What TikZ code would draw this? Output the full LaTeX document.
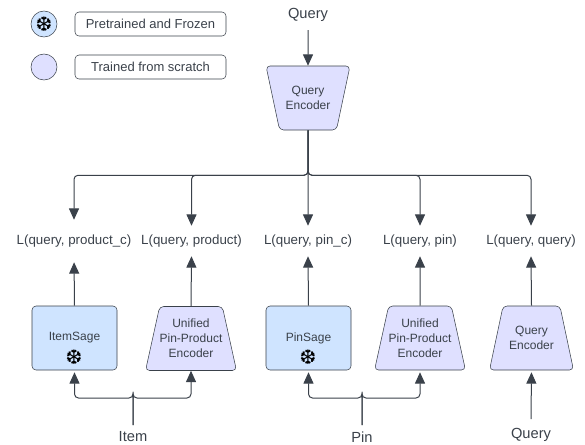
\documentclass[tikz,border=0pt]{standalone}
\usepackage{fontspec}
\setmainfont{Liberation Sans}
\newfontfamily\flakefont{DejaVu Sans}
\usetikzlibrary{arrows.meta,shapes.geometric,calc}
\definecolor{inkgray}{HTML}{3A414A}
\definecolor{frozenblue}{HTML}{CFE4FF}
\definecolor{trainedblue}{HTML}{DFE0FF}
\newcommand\flake{{\flakefont\symbol{"2746}}}
\tikzset{
  boxtext/.style = {text = inkgray, font = \fontsize{9}{11.25}\selectfont, align = center},
  legendbox/.style = {boxtext, font = \fontsize{9.75}{12}\selectfont, draw = inkgray, rounded corners = 3, minimum width = 113.25pt, minimum height = 18pt, inner sep = 0pt},
  legenddot/.style = {draw = inkgray, circle, minimum size = 19.5pt, inner sep = 0pt},
  sagebox/.style = {boxtext, draw = inkgray, fill = frozenblue, rounded corners = 3, minimum width = 63.75pt, minimum height = 48pt, inner sep = 0pt},
  encoder/.style = {boxtext, draw = inkgray, fill = trainedblue, trapezium, trapezium stretches body = true, trapezium angle = 70, rounded corners = 3, minimum width = 63pt, minimum height = 48pt, inner sep = 0pt},
  shortenc/.style = {encoder, trapezium angle = 60},
  invenc/.style = {shortenc, shape border rotate = 180},
  lossname/.style = {text = inkgray, font = \fontsize{10}{12}\selectfont, minimum height = 22.5pt, inner sep = 0pt},
  inputname/.style = {text = inkgray, font = \fontsize{11}{13}\selectfont, inner sep = 0pt},
  snow/.style = {text = black, font = \fontsize{15}{15}\selectfont, inner sep = 0pt},
  link/.style = {draw = inkgray, line width = .75pt, rounded corners = 3, -{Triangle[length = 8.5pt, width = 7.5pt]}},
}
\begin{document}
\begin{tikzpicture}[x = .75pt, y = -.75pt]
\useasboundingbox (0,0) rectangle (585,444);
% legend
\node[legenddot, fill = frozenblue] (frozendot) at (44,24) {};
\node[snow] (frozenflake) at (frozendot.center) {\flake};
\node[legenddot, fill = trainedblue] (traineddot) at (44,67) {};
\node[legendbox] (frozentext) at (150.5,24) {Pretrained and Frozen};
\node[legendbox] (trainedtext) at (150.5,67) {Trained from scratch};
% query tower
\node[inputname] (querytop) at (308,15) {Query};
\coordinate (querystart) at (308,30);
\node[invenc] (queryenc) at (308,98) {Query\\Encoder};
% losses
\node[lossname] (lossprodc) at (74,241) {L(query, product\_c)};
\node[lossname] (lossprod) at (191.5,241) {L(query, product)};
\node[lossname] (losspinc) at (308,241) {L(query, pin\_c)};
\node[lossname] (losspin) at (420,241) {L(query, pin)};
\node[lossname] (lossquery) at (531,241) {L(query, query)};
% encoders
\node[sagebox] (itemsage) at (74.5,338) {ItemSage};
\node[snow] (itemflake) at (74,357) {\flake};
\node[encoder] (prodenc) at (191,338.5) {Unified\\Pin-Product\\Encoder};
\node[sagebox] (pinsage) at (308.5,338) {PinSage};
\node[snow] (pinflake) at (308,357) {\flake};
\node[encoder] (pinenc) at (420,338) {Unified\\Pin-Product\\Encoder};
\node[shortenc] (queryenctwo) at (531.5,338) {Query\\Encoder};
% inputs
\node[inputname] (itemname) at (133,437) {Item};
\coordinate (itemstart) at (133,425);
\node[inputname] (pinname) at (362,437) {Pin};
\coordinate (pinstart) at (362,425);
\node[inputname] (querybot) at (531,435) {Query};
\coordinate (querybotstart) at (531,419);
% connectors
\draw[link] (querystart) -- (queryenc.north);
\draw[link, shorten > = 4.5pt] (queryenc.south) |- ($(queryenc.south)+(0,45)$) -| (lossprodc.north);
\draw[link] (queryenc.south) |- ($(queryenc.south)+(0,45)$) -| (lossprod.north);
\draw[link] (queryenc.south) -- (losspinc.north);
\draw[link] (queryenc.south) |- ($(queryenc.south)+(0,45)$) -| (losspin.north);
\draw[link] (queryenc.south) |- ($(queryenc.south)+(0,45)$) -| (lossquery.north);
\draw[link, shorten > = 4.5pt] (itemsage.north) -- (lossprodc.south);
\draw[link] (prodenc.north) -- (lossprod.south);
\draw[link] (pinsage.north) -- (losspinc.south);
\draw[link] (pinenc.north) -- (losspin.south);
\draw[link] (queryenctwo.north) -- (lossquery.south);
\draw[link, shorten > = 1.5pt] (itemstart) |- ($(itemstart)+(0,-27)$) -| (itemsage.south);
\draw[link] (itemstart) |- ($(itemstart)+(0,-27)$) -| (prodenc.south);
\draw[link, shorten > = 1.5pt] (pinstart) |- ($(pinstart)+(0,-27)$) -| (pinsage.south);
\draw[link, shorten > = 1.5pt] (pinstart) |- ($(pinstart)+(0,-27)$) -| (pinenc.south);
\draw[link, shorten > = 1.5pt] (querybotstart) -- (queryenctwo.south);
\end{tikzpicture}
\end{document}
